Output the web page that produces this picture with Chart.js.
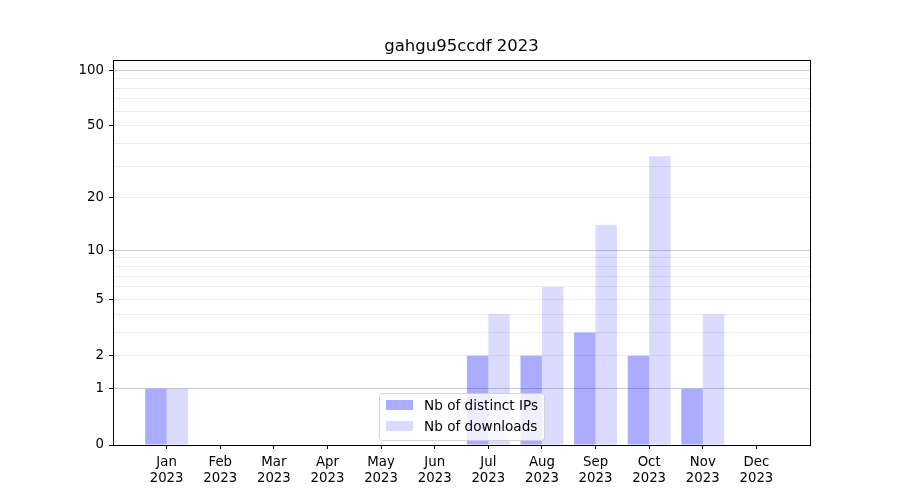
<!DOCTYPE html>
<html>
<head>
<meta charset="utf-8">
<script src="https://cdn.jsdelivr.net/npm/chart.js@4"></script>
<style>
  html, body { margin: 0; padding: 0; background: #fff; }
</style>
</head>
<body>
<canvas id="chart" width="900" height="500"></canvas>
<script>
// data
var months = ["Jan", "Feb", "Mar", "Apr", "May", "Jun", "Jul", "Aug", "Sep", "Oct", "Nov", "Dec"]
var year = "2023"
var title = "gahgu95ccdf " + year
var ip_counts = [1, 0, 0, 0, 0, 0, 2, 2, 3, 2, 1, 0]
var download_counts = [1, 0, 0, 0, 0, 0, 4, 6, 14, 34, 4, 0]

// y ticks: every one gets a grid line, only some get a label
var y_tick_values = [0, 1, 2, 3, 4, 5, 6, 7, 8, 9, 10, 20, 30, 40, 50, 60, 70, 80, 90, 100]
var y_tick_labels = [0, 1, 2, 5, 10, 20, 50, 100]
var y_major_lines = [1, 10, 100]

var FONT = "'DejaVu Sans', 'Liberation Sans', sans-serif"

// scale using log10(1 + v), so 0 can sit at the bottom
function t(v) { return Math.log10(1 + v) }

class Log1pScale extends Chart.LinearScale {
    buildTicks() {
        return y_tick_values.map(v => ({value: v}))
    }
    getPixelForValue(value) {
        var d = (t(value) - t(this.min)) / (t(this.max) - t(this.min))
        return this.getPixelForDecimal(d)
    }
    getValueForPixel(pixel) {
        var d = this.getDecimalForPixel(pixel)
        return Math.pow(10, t(this.min) + d * (t(this.max) - t(this.min))) - 1
    }
}
Log1pScale.id = "log1p"
Log1pScale.defaults = {}
Chart.register(Log1pScale)

// title over the plot, black box round the plot, and a legend inside it at the bottom
var frame_and_legend = {
    id: "frame_and_legend",
    afterDraw(chart) {
        var ctx = chart.ctx
        var a = chart.chartArea
        ctx.save()

        // title, centred on the plot
        ctx.fillStyle = "#000"
        ctx.font = "16.5px " + FONT
        ctx.textAlign = "center"
        ctx.textBaseline = "middle"
        ctx.fillText(title, (a.left + a.right) / 2, 47)
        ctx.textAlign = "left"

        ctx.strokeStyle = "#000"
        ctx.lineWidth = 1
        ctx.strokeRect(Math.round(a.left) + 0.5, Math.round(a.top) + 0.5,
                       Math.round(a.right - a.left), Math.round(a.bottom - a.top))

        // legend
        var sets = chart.data.datasets
        ctx.font = "13.6px " + FONT
        var text_w = Math.max(...sets.map(s => ctx.measureText(s.label).width))
        var w = 7 + 27 + 11 + text_w + 6
        var h = 47
        var x = (a.left + a.right) / 2 - w / 2
        var y = a.bottom - 5 - h
        ctx.beginPath()
        ctx.roundRect(Math.round(x) + 0.5, Math.round(y) + 0.5, Math.round(w), h, 3)
        ctx.fillStyle = "rgba(255, 255, 255, 0.8)"
        ctx.fill()
        ctx.strokeStyle = "rgba(204, 204, 204, 0.8)"
        ctx.stroke()
        ctx.textBaseline = "middle"
        sets.forEach(function (s, i) {
            var cy = y + 12 + i * 21
            ctx.fillStyle = s.backgroundColor
            ctx.fillRect(x + 7, cy - 5, 27, 10)
            ctx.fillStyle = "#000"
            ctx.fillText(s.label, x + 45, cy + 1)
        })
        ctx.restore()
    }
}

var chart = new Chart(document.getElementById("chart"), {
    type: "bar",
    data: {
        datasets: [
            {
                label: "Nb of distinct IPs",
                data: months.map((m, i) => ({x: i, y: ip_counts[i]})),
                backgroundColor: "rgba(0, 0, 255, 0.33)"
            },
            {
                label: "Nb of downloads",
                data: months.map((m, i) => ({x: i, y: download_counts[i]})),
                backgroundColor: "rgba(0, 0, 255, 0.14)"
            }
        ]
    },
    options: {
        responsive: false,
        animation: false,
        devicePixelRatio: 1,
        categoryPercentage: 0.8,
        barPercentage: 1,
        layout: {padding: {left: 0, right: 90, top: 60, bottom: 0}},
        plugins: {
            legend: {display: false},
            tooltip: {enabled: false},
            title: {display: false}
        },
        scales: {
            x: {
                type: "linear",
                min: -1,
                max: 12,
                offset: false,
                afterBuildTicks: function (scale) {
                    scale.ticks = months.map((m, i) => ({value: i}))
                },
                afterFit: function (scale) { scale.height = 55 },
                ticks: {
                    autoSkip: false,
                    maxRotation: 0,
                    color: "#000",
                    padding: 6,
                    font: {family: FONT, size: 13.3, lineHeight: 1.2},
                    callback: function (value) { return [months[value], year] }
                },
                grid: {drawOnChartArea: false, offset: false, tickLength: 4, tickColor: "#000"},
                border: {color: "#000", width: 1}
            },
            y: {
                type: "log1p",
                min: 0,
                max: 113.5,
                z: 1,
                afterFit: function (scale) { scale.width = 113 },
                ticks: {
                    autoSkip: false,
                    color: "#000",
                    padding: 5,
                    font: {family: FONT, size: 13.3},
                    callback: function (value) {
                        return y_tick_labels.includes(value) ? String(value) : ""
                    }
                },
                grid: {
                    tickLength: 4,
                    color: function (ctx) {
                        var v = ctx.tick.value
                        if (v == 0) return "rgba(0, 0, 0, 0)"
                        return y_major_lines.includes(v) ? "#cccccc" : "#ececec"
                    },
                    tickColor: function (ctx) {
                        return y_tick_labels.includes(ctx.tick.value) ? "#000" : "rgba(0, 0, 0, 0)"
                    }
                },
                border: {color: "#000", width: 1}
            }
        }
    },
    plugins: [frame_and_legend]
});
</script>
</body>
</html>
